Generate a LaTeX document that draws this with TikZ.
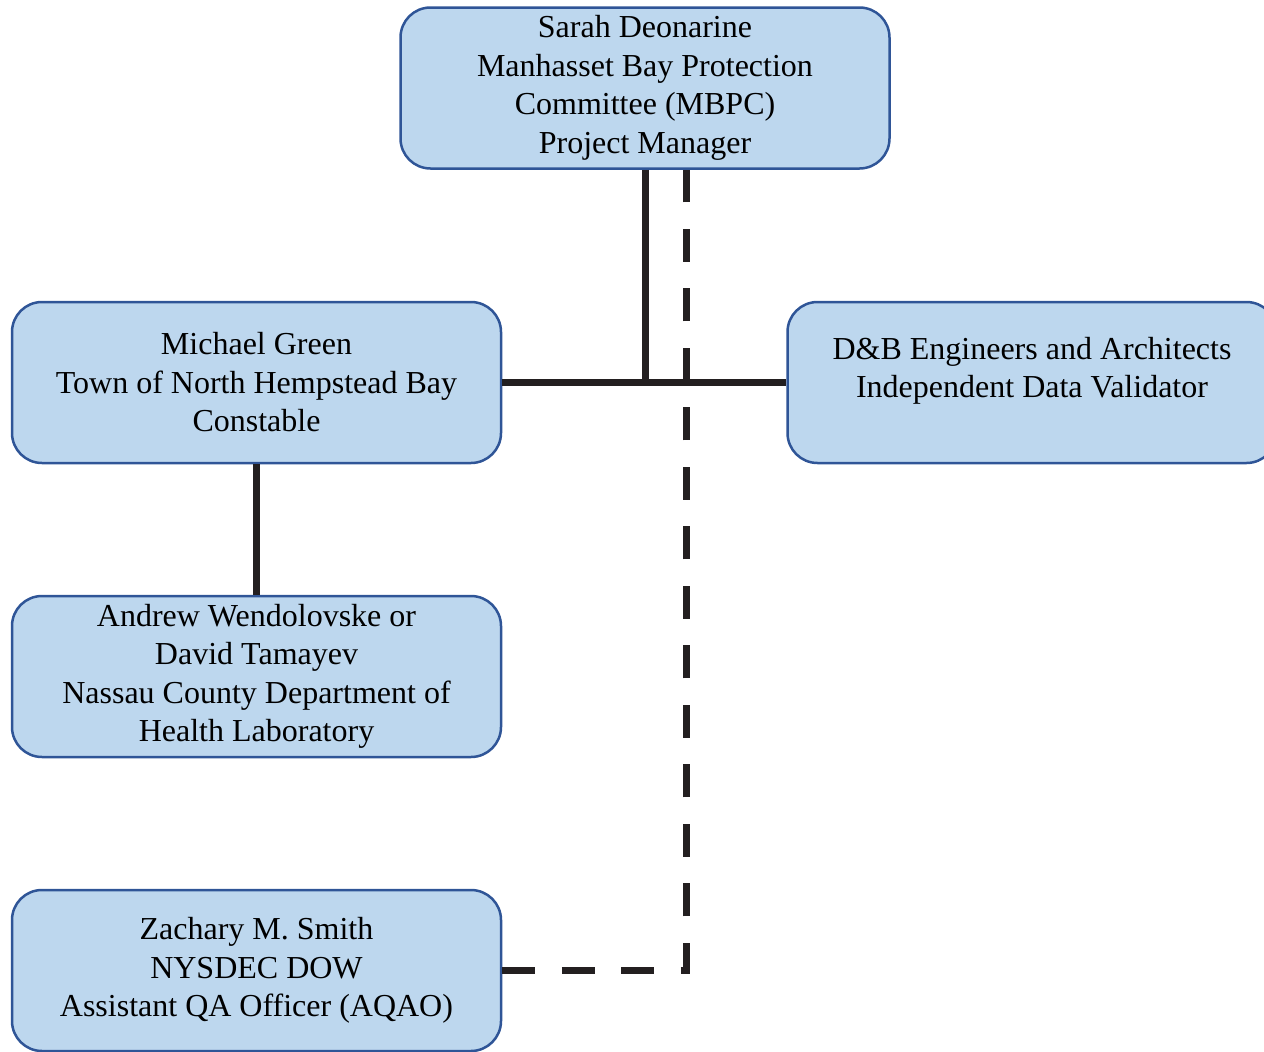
\documentclass[tikz,border=0pt]{standalone}
\usepackage{fontspec}
\setmainfont{Liberation Serif}

\definecolor{boxfill}{HTML}{BDD7EE}
\definecolor{boxline}{HTML}{2F5597}
\definecolor{linkcol}{HTML}{231F20}

\tikzset{
  rolebox/.style={draw=boxline, fill=boxfill, line width=2.5pt, rounded corners=30pt,
    minimum width=489pt, minimum height=161pt, align=center, inner sep=0pt,
    font=\fontsize{32}{38.5}\selectfont},
  solidlink/.style={linkcol, line width=7pt},
  dashlink/.style={linkcol, line width=7pt, dash pattern=on 33pt off 26.5pt},
}

\begin{document}
\begin{tikzpicture}[x=1pt, y=-1pt]
                \useasboundingbox (0, 0) rectangle (1264, 1052);
                \node [rolebox] (pm) at (645, 88) {Sarah Deonarine\\Manhasset Bay Protection\\Committee (MBPC)\\Project Manager};
                \node [rolebox] (green) at (256.5, 382.5) {Michael Green\\Town of North Hempstead Bay\\Constable};
                \node [rolebox] (db) at (1032, 382.5) {D\&B Engineers and Architects\\Independent Data Validator\\[-8pt]\mbox{}};
                \node [rolebox] (lab) at (256.5, 676.5) {Andrew Wendolovske or\\David Tamayev\\Nassau County Department of\\Health Laboratory};
                \node [rolebox] (aqao) at (256.5, 970.5) {Zachary M. Smith\\NYSDEC DOW\\Assistant QA Officer (AQAO)};
                % reporting lines
                \draw [solidlink] (pm.south) -- (pm.south |- green.east);
                \draw [solidlink] (green.east) -- (db.west);
                \draw [solidlink] (green.south) -- (lab.north);
                % communication line
                \draw [dashlink] (aqao.east) -| ([xshift=41pt]pm.south);
            \end{tikzpicture}
\end{document}
